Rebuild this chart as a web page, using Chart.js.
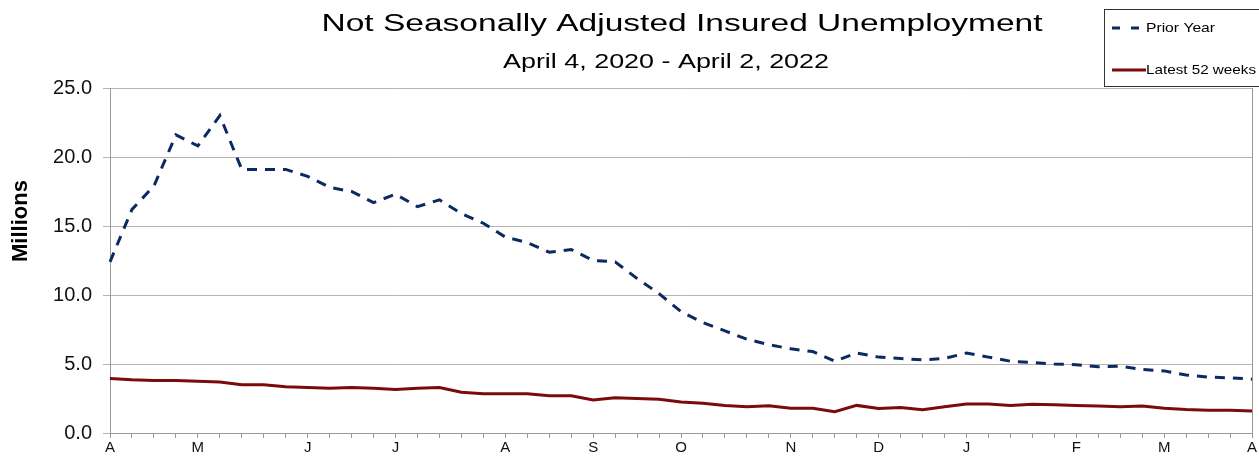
<!DOCTYPE html>
<html>
<head>
<meta charset="utf-8">
<script src="https://cdn.jsdelivr.net/npm/chart.js@4"></script>
<style>
  html, body { margin: 0; padding: 0; background: #fff; }
  #wrap { width: 1259px; height: 456px; }
</style>
</head>
<body>
<div id="wrap"><canvas id="claims-chart"></canvas></div>
<script>
// one label per week, month letter where the month starts
const weekLabels = ['A','','','','M','','','','','J','','','','J','','','','','A','','','','S','','','','O','','','','','N','','','','D','','','','J','','','','','F','','','','M','','','','A'];

// millions, weekly
const priorYear = [12.4, 16.2, 17.9, 21.6, 20.8, 23.0, 19.1, 19.1, 19.1, 18.6, 17.8, 17.5, 16.7, 17.3, 16.4, 16.9,
  15.9, 15.2, 14.2, 13.8, 13.1, 13.3, 12.5, 12.4, 11.2, 10.1, 8.8, 8.0, 7.4, 6.8, 6.4, 6.1, 5.9, 5.2, 5.8, 5.5,
  5.4, 5.3, 5.4, 5.8, 5.5, 5.2, 5.1, 5.0, 4.95, 4.8, 4.85, 4.6, 4.5, 4.2, 4.05, 4.0, 3.9];
const latest52 = [3.95, 3.85, 3.8, 3.8, 3.75, 3.7, 3.5, 3.5, 3.35, 3.3, 3.25, 3.3, 3.25, 3.15, 3.25, 3.3,
  2.95, 2.85, 2.85, 2.85, 2.7, 2.7, 2.4, 2.55, 2.5, 2.45, 2.25, 2.15, 2.0, 1.9, 1.97, 1.8, 1.8, 1.55, 2.0, 1.78,
  1.85, 1.68, 1.9, 2.1, 2.1, 2.0, 2.08, 2.05, 2.0, 1.95, 1.9, 1.95, 1.8, 1.7, 1.65, 1.65, 1.6];

const yTicks = [0, 5, 10, 15, 20, 25];

const NAVY = '#0b2a63';
const MAROON = '#7b0a0a';
const FONT = '"Liberation Sans", Arial, sans-serif';

// the original renders its text a bit wide, so stretch it to the measured width
function wideText(ctx, text, x, y, width, align) {
  const w = ctx.measureText(text).width;
  const sx = width / w;
  ctx.save();
  ctx.translate(x, y);
  ctx.scale(sx, 1);
  ctx.textAlign = align;
  ctx.fillText(text, 0, 0);
  ctx.restore();
}

const frame = {
  id: 'frame',
  afterDraw(chart) {
    const ctx = chart.ctx;
    const a = chart.chartArea;
    ctx.save();
    // right border of the plot
    ctx.strokeStyle = '#999';
    ctx.lineWidth = 1;
    ctx.beginPath();
    ctx.moveTo(a.right + 0.5, a.top);
    ctx.lineTo(a.right + 0.5, a.bottom);
    ctx.stroke();

    // titles
    ctx.fillStyle = '#000';
    ctx.textBaseline = 'alphabetic';
    ctx.font = '23px ' + FONT;
    wideText(ctx, 'Not Seasonally Adjusted Insured Unemployment', 682, 31, 721, 'center');
    ctx.font = '21px ' + FONT;
    wideText(ctx, 'April 4, 2020 - April 2, 2022', 666, 68, 326, 'center');

    // y axis title
    ctx.save();
    ctx.translate(27, 221);
    ctx.rotate(-Math.PI / 2);
    ctx.font = 'bold 22px ' + FONT;
    ctx.textBaseline = 'alphabetic';
    wideText(ctx, 'Millions', 0, 0, 82, 'center');
    ctx.restore();

    // legend box
    ctx.fillStyle = '#fff';
    ctx.fillRect(1104, 9, 160, 77);
    ctx.strokeStyle = '#333';
    ctx.strokeRect(1104.5, 9.5, 160, 77);
    ctx.lineWidth = 3;
    ctx.strokeStyle = NAVY;
    ctx.setLineDash([8, 11]);
    ctx.beginPath();
    ctx.moveTo(1112, 28);
    ctx.lineTo(1145, 28);
    ctx.stroke();
    ctx.setLineDash([]);
    ctx.strokeStyle = MAROON;
    ctx.beginPath();
    ctx.moveTo(1112, 70);
    ctx.lineTo(1146, 70);
    ctx.stroke();
    ctx.fillStyle = '#000';
    ctx.font = '13px ' + FONT;
    ctx.textBaseline = 'middle';
    wideText(ctx, 'Prior Year', 1146, 28, 69, 'left');
    wideText(ctx, 'Latest 52 weeks', 1146, 70, 110, 'left');
    ctx.restore();
  }
};

new Chart(document.getElementById('claims-chart'), {
  type: 'line',
  data: {
    labels: weekLabels,
    datasets: [
      {
        label: 'Prior Year',
        data: priorYear,
        borderColor: NAVY,
        borderWidth: 3,
        borderDash: [10, 8],
        pointRadius: 0,
        tension: 0,
      },
      {
        label: 'Latest 52 weeks',
        data: latest52,
        borderColor: MAROON,
        borderWidth: 3,
        pointRadius: 0,
        tension: 0,
      },
    ],
  },
  options: {
    responsive: true,
    maintainAspectRatio: false,
    animation: false,
    layout: { padding: { top: 88, right: 7, left: 0, bottom: 0 } },
    plugins: {
      legend: { display: false },
      title: { display: false },
      tooltip: { enabled: false },
    },
    scales: {
      x: {
        offset: false,
        border: { color: '#999' },
        grid: { drawOnChartArea: false, drawTicks: true, tickLength: 5, color: '#999' },
        ticks: {
          autoSkip: false,
          maxRotation: 0,
          padding: 1,
          color: '#111',
          font: { family: FONT, size: 15 },
        },
        afterFit(scale) { scale.height = 23; },
      },
      y: {
        min: 0,
        max: 25,
        afterBuildTicks(scale) { scale.ticks = yTicks.map(v => ({ value: v })); },
        border: { color: '#999' },
        grid: { color: '#b5b5b5', tickLength: 7 },
        ticks: {
          padding: 11,
          color: '#111',
          font: { family: FONT, size: 20 },
          callback: v => v.toFixed(1),
        },
        title: { display: false },
        afterFit(scale) { scale.width = 110; },
      },
    },
  },
  plugins: [frame],
});
</script>
</body>
</html>
